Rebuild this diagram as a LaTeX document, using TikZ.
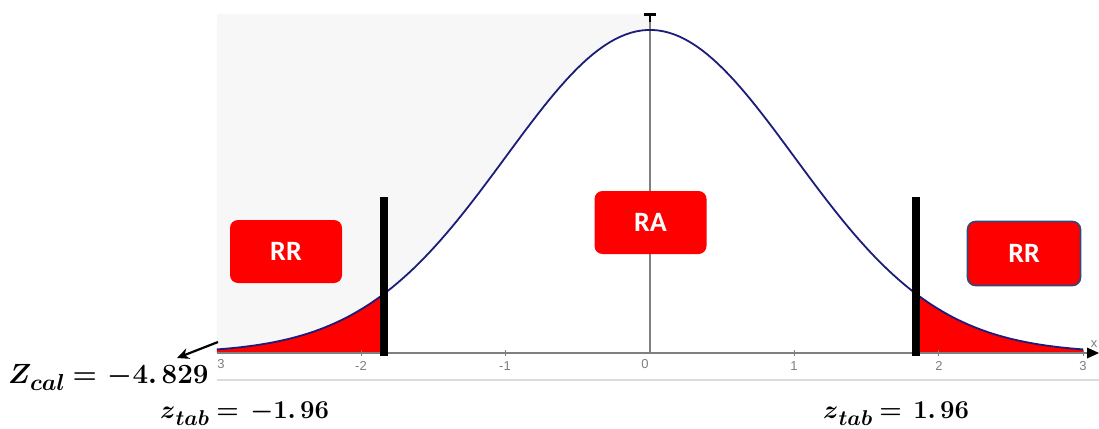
\documentclass[tikz,border=0pt]{standalone}
\usepackage{amsmath}
\usepackage{bm}
\usepackage[no-math]{fontspec}
\newfontfamily\boxfont{Carlito}
\newfontfamily\tickfont{Liberation Sans}
\usetikzlibrary{arrows.meta}
\definecolor{curveblue}{HTML}{1C1C7A}
\definecolor{bggray}{HTML}{F7F7F7}
\definecolor{axisgray}{HTML}{7F7F7F}
\definecolor{framegray}{HTML}{DCDCDC}
\definecolor{boxred}{HTML}{FF0000}
\definecolor{boxedge}{HTML}{2E4A7A}
\newcommand{\bsub}[1]{\raisebox{-0.28em}{\fontsize{17.28}{20}\selectfont$\bm{#1}$}}
\newcommand{\zcallabel}{\scalebox{1.34}{\fontsize{20.74}{24}\selectfont$\bm{Z}\mkern-1mu\bsub{cal}\mathrel{\bm{=}}\mkern2mu\bm{-4.\mkern3mu 829}$}}
\newcommand{\ztabneglabel}{\scalebox{1.24}{\fontsize{20.74}{24}\selectfont$\bm{z}\bsub{tab}\mathrel{\bm{=}}\mkern3mu\bm{-1.\mkern3mu 96}$}}
\newcommand{\ztabposlabel}{\scalebox{1.24}{\fontsize{20.74}{24}\selectfont$\bm{z}\bsub{tab}\mathrel{\bm{=}}\mkern3mu\bm{1.\mkern3mu 96}$}}
\tikzset{
  regionbox/.style={draw=none, fill=boxred, rounded corners=8pt, minimum width=112pt, minimum height=63pt, text=white, font=\boxfont\bfseries\fontsize{28}{32}\selectfont, inner sep=0pt},
  ticklbl/.style={text=axisgray, font=\tickfont\fontsize{13}{14}\selectfont, inner sep=0pt},
  mathlbl/.style={inner sep=0pt, anchor=base west},
  critline/.style={line width=8pt, black},
  curvestyle/.style={draw=curveblue, line width=1.8pt},
}
\begin{document}
\begin{tikzpicture}[x=1pt,y=-1pt]
\useasboundingbox (0,0) rectangle (1099,428);
\fill[white] (0,0) rectangle (1099,428);
% faint gray background above the curve, left half
\fill[bggray] (217,14) -- (650,14) -- (650,30)
  -- plot[domain=0:-3, samples=80] ({650+144.4*\x},{353-323*exp(-\x*\x/2)})
  -- cycle;
% frame bottom line
\draw[framegray, line width=1.5pt] (217,380) -- (1099,380);
% rejection regions
\fill[boxred] (217,353)
  -- plot[domain=-3:-1.84, samples=40] ({650+144.4*\x},{353-323*exp(-\x*\x/2)})
  -- (384,353) -- cycle;
\fill[boxred] (916,353)
  -- plot[domain=1.84:3, samples=40] ({650+144.4*\x},{353-323*exp(-\x*\x/2)})
  -- (1083,353) -- cycle;
% axes
\draw[axisgray, line width=1.2pt] (650,353) -- (650,16);
\fill[black] (644,13) rectangle (656,16);
\draw[black, line width=1.5pt] (650,16) -- (650,22);
\draw[axisgray, line width=1.4pt] (217,353) -- (1088,353);
\fill[black] (1099,353) -- (1087,347.5) -- (1087,358.5) -- cycle;
\foreach \t in {-2,-1,1,2,3} {
  \draw[axisgray, line width=1pt] ({650+144.4*\t},350) -- ({650+144.4*\t},356);
}
\node[ticklbl] (tm3) at (221,364) {3};
\node[ticklbl] (tm2) at (361,366) {-2};
\node[ticklbl] (tm1) at (505,366) {-1};
\node[ticklbl] (t0) at (645,364) {0};
\node[ticklbl] (t1) at (794,366) {1};
\node[ticklbl] (t2) at (939,366) {2};
\node[ticklbl] (t3) at (1083,366) {3};
\node[ticklbl] (xl) at (1094,344) {x};
% curve
\draw[curvestyle] plot[domain=-3:3, samples=160] ({650+144.4*\x},{353-323*exp(-\x*\x/2)});
% critical lines
\draw[critline] (384,197) -- (384,356);
\draw[critline] (916,197) -- (916,356);
% boxes
\node[regionbox] (rrl) at (286,251.5) {RR};
\node[regionbox] (ra) at (650.5,222.5) {RA};
\node[regionbox, draw=boxedge, line width=1.6pt, minimum width=113pt, minimum height=64pt] (rrr) at (1024,253.5) {RR};
% labels
\node[mathlbl] (zcal) at (8,383) {\zcallabel};
\node[mathlbl] (ztabl) at (160,418) {\ztabneglabel};
\node[mathlbl] (ztabr) at (823,418) {\ztabposlabel};
% arrow
\coordinate (arrstart) at (218,342);
\coordinate (arrend) at (177,358);
\draw[black, line width=2.2pt, -{Stealth[length=12pt,width=11pt]}] (arrstart) -- (arrend);
\end{tikzpicture}
\end{document}
